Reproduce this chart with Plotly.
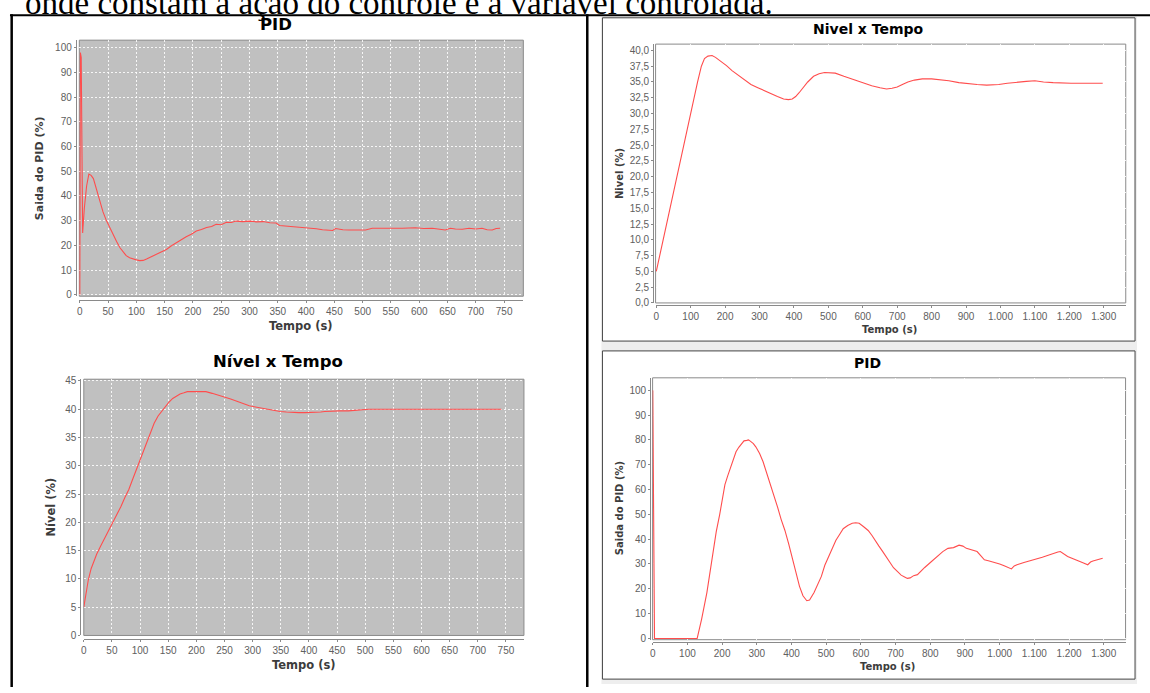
import plotly.graph_objects as go

# ---------------- data ----------------
# Top-left: PID output (%) vs time (s)
pid1_t = [0, 1, 2.5, 5, 8, 12, 16, 20, 24, 30, 35, 41, 47, 53, 59, 65, 71, 77, 82, 88, 94, 100,
          106, 112, 118, 124, 130, 141, 153, 162, 171, 180, 188, 197, 206, 215, 224, 233, 241,
          250, 259, 268, 276, 288, 300, 312, 324, 336, 347, 353, 365, 376, 394, 405, 418, 429,
          440, 447, 452, 465, 476, 490, 505, 517, 535, 552, 570, 593, 608, 623, 635, 646, 655,
          664, 676, 688, 700, 711, 720, 729, 736, 743]
pid1_v = [0, 98, 96, 25, 35, 44, 48.8, 48.3, 47, 42, 38, 33.5, 30, 27, 24.2, 21.5, 19, 17.2,
          15.8, 15, 14.4, 14.1, 13.8, 13.9, 14.5, 15.3, 15.8, 17, 18.3, 19.8, 21.2, 22.4, 23.5,
          24.5, 25.8, 26.4, 27.2, 27.6, 28.5, 28.3, 29.3, 29.2, 29.8, 29.6, 29.8, 29.5, 29.6,
          29.1, 29.0, 28.0, 27.8, 27.6, 27.3, 27.0, 26.7, 26.3, 26.1, 26.0, 26.8, 26.3, 26.2,
          26.3, 26.2, 26.9, 26.8, 27.0, 26.9, 27.1, 26.8, 26.9, 26.5, 26.2, 26.9, 26.6, 26.5,
          26.9, 26.6, 26.9, 26.3, 26.2, 26.8, 26.9]

# Top-right: level (%) vs time (s)
lvl2_t = [0, 10, 25, 40, 57, 72, 88, 100, 110, 120, 131, 140, 150, 162, 172, 183, 195, 204, 220,
          240, 257, 275, 295, 310, 330, 352, 370, 384, 395, 405, 415, 426, 440, 457, 473, 489,
          505, 520, 545, 573, 600, 626, 650, 669, 685, 700, 715, 731, 750, 773, 800, 826, 850,
          879, 905, 932, 960, 995, 1020, 1047, 1075, 1100, 1125, 1153, 1180, 1205, 1250, 1297]
lvl2_v = [5, 7.5, 11.5, 15.3, 19.3, 23.2, 27.1, 29.8, 32.3, 35, 37.5, 38.7, 39.1, 39.2, 38.9,
          38.5, 38.0, 37.6, 36.8, 36.0, 35.3, 34.6, 34.1, 33.7, 33.2, 32.7, 32.3, 32.2, 32.3,
          32.7, 33.3, 34.0, 35.0, 35.9, 36.3, 36.5, 36.5, 36.4, 35.9, 35.4, 34.9, 34.4, 34.1,
          33.9, 34.0, 34.2, 34.6, 35.0, 35.3, 35.5, 35.5, 35.4, 35.2, 34.9, 34.7, 34.6, 34.5,
          34.6, 34.8, 35.0, 35.1, 35.2, 35.0, 34.9, 34.8, 34.8, 34.8, 34.8]

# Bottom-left: level (%) vs time (s)
lvl1_t = [0, 4, 8, 13, 17, 23, 30, 38, 47, 53, 60, 66, 73, 80, 86, 93, 99, 106, 112, 119, 125,
          132, 138, 145, 151, 158, 165, 171, 178, 184, 195, 206, 217, 228, 239, 250, 261, 272,
          283, 294, 305, 316, 327, 338, 349, 360, 371, 382, 393, 404, 415, 421, 428, 440, 455,
          470, 481, 490, 500, 506, 520, 550, 600, 650, 700, 742]
lvl1_v = [5, 7.8, 9.8, 11.8, 13, 14.4, 15.8, 17.3, 19, 20.2, 21.6, 22.8, 24.4, 25.8, 27.4, 29.2,
          30.8, 32.7, 34.3, 36, 37.5, 38.8, 39.6, 40.4, 41.2, 41.9, 42.4, 42.7, 42.9, 43.1, 43.1,
          43.1, 43.1, 42.8, 42.5, 42.2, 41.8, 41.4, 41.0, 40.6, 40.4, 40.2, 39.9, 39.7, 39.6,
          39.5, 39.4, 39.4, 39.4, 39.4, 39.4, 39.5, 39.6, 39.7, 39.7, 39.7, 39.8, 39.9, 39.9,
          40.0, 40.0, 40.0, 40.0, 40.0, 40.0, 40.0]

# Bottom-right: PID output (%) vs time (s)
pid2_t = [0, 5, 128, 141, 156, 164, 172, 183, 193, 200, 208, 216, 224, 232, 240, 248, 256, 263,
          271, 276, 282, 290, 297, 308, 318, 328, 339, 350, 360, 370, 381, 392, 402, 412, 423,
          433, 444, 452, 465, 475, 486, 496, 507, 517, 528, 539, 549, 562, 575, 585, 595, 608,
          621, 632, 642, 652, 663, 674, 684, 694, 705, 716, 726, 734, 742, 752, 763, 773, 784,
          797, 810, 823, 836, 851, 867, 883, 894, 904, 920, 935, 946, 956, 970, 987, 1000, 1013,
          1025, 1034, 1042, 1050, 1070, 1092, 1108, 1123, 1140, 1155, 1168, 1175, 1186, 1196,
          1210, 1227, 1240, 1254, 1262, 1269, 1283, 1297]
pid2_v = [100, 0, 0, 7.9, 18.5, 26, 34.3, 43, 50, 56, 62, 65.5, 68.6, 72, 75.2, 77, 78.5, 79.6,
          79.8, 80, 79.4, 78.5, 77.2, 74.5, 71.2, 67, 62, 57.5, 52.8, 48, 43.5, 38, 33, 27, 21,
          17.2, 15.2, 15.5, 18.5, 21.5, 25, 29.5, 33, 36.5, 39.6, 42, 44.2, 45.5, 46.4, 46.6,
          46.4, 45, 43.5, 41.5, 39.6, 37.2, 35, 32.5, 30.3, 28.5, 27, 25.5, 24.8, 24.2, 24.4,
          25.3, 25.7, 27.3, 28.6, 30.2, 31.7, 33.3, 35, 36.3, 36.6, 37.6, 37.2, 36.3, 35.6, 35,
          33.3, 31.7, 31.2, 30.6, 30.0, 29.3, 28.6, 28, 29.2, 29.7, 30.6, 31.4, 32.0, 32.7, 33.5,
          34.3, 34.8, 35, 34, 33, 32.2, 31.4, 30.5, 29.7, 30.8, 31.2, 31.8, 32.3]

ticks_left_x = list(range(0, 751, 50))
ticks_pid1_y = list(range(0, 101, 10))
ticks_lvl1_y = list(range(0, 46, 5))
ticks_right_x = list(range(0, 1301, 100))
ticks_right_x_text = ["0", "100", "200", "300", "400", "500", "600", "700", "800", "900",
                      "1.000", "1.100", "1.200", "1.300"]
ticks_lvl2_y = [i * 2.5 for i in range(17)]
ticks_lvl2_y_text = ["0,0", "2,5", "5,0", "7,5", "10,0", "12,5", "15,0", "17,5", "20,0", "22,5",
                     "25,0", "27,5", "30,0", "32,5", "35,0", "37,5", "40,0"]
ticks_pid2_y = list(range(0, 101, 10))

# ---------------- layout helpers ----------------
W, H = 1150, 693
def fx(p):
    return p / W
def fy(p):
    return 1 - p / H

LINE = "#ff4d4d"
fig = go.Figure()
for tx, ty, xa, ya in [(pid1_t, pid1_v, "x", "y"), (lvl2_t, lvl2_v, "x2", "y2"),
                       (lvl1_t, lvl1_v, "x3", "y3"), (pid2_t, pid2_v, "x4", "y4")]:
    fig.add_trace(go.Scatter(x=tx, y=ty, mode="lines", line=dict(color=LINE, width=1.1),
                             xaxis=xa, yaxis=ya, showlegend=False, cliponaxis=False,
                             hoverinfo="skip"))

# plot rectangles in pixels: (left, top, right, bottom)
P1 = (76.5, 36.7, 521.7, 296.5)
P2 = (654.3, 40.7, 1125.7, 303.3)
P3 = (81.0, 380.7, 522.3, 640.7)
P4 = (651.3, 379.3, 1125.5, 645.0)

TICKFONT = dict(family="Liberation Sans, Arial, sans-serif", size=10, color="#606060")
def xax(rect, rng, vals, text, off):
    return dict(domain=[fx(rect[0]), fx(rect[2])], range=rng, anchor="free",
                position=fy(rect[3] + off), tickvals=vals, ticktext=text,
                showgrid=True, gridcolor="rgba(255,255,255,0.85)", gridwidth=1,
                griddash="2px,2px", zeroline=False, showline=True, linecolor="#8a8a8a",
                linewidth=1, ticks="outside", ticklen=2, tickcolor="#8a8a8a",
                tickfont=TICKFONT, fixedrange=True)
def yax(rect, rng, vals, text, off):
    return dict(domain=[fy(rect[3]), fy(rect[1])], range=rng, anchor="free",
                position=fx(rect[0] - off), tickvals=vals, ticktext=text,
                showgrid=True, gridcolor="rgba(255,255,255,0.85)", gridwidth=1,
                griddash="2px,2px", zeroline=False, showline=True, linecolor="#8a8a8a",
                linewidth=1, ticks="outside", ticklen=2, tickcolor="#8a8a8a",
                tickfont=TICKFONT, fixedrange=True)

layout = dict(
    width=W, height=H, margin=dict(l=0, r=0, t=0, b=0),
    paper_bgcolor="white", plot_bgcolor="#c0c0c0", showlegend=False,
    xaxis=xax(P1, [-0.9, 784], ticks_left_x, [str(v) for v in ticks_left_x], 3.5),
    yaxis=yax(P1, [-0.6, 103], ticks_pid1_y, [str(v) for v in ticks_pid1_y], 3.5),
    xaxis2=xax(P2, [-2, 1364], ticks_right_x, ticks_right_x_text, 2.5),
    yaxis2=yax(P2, [0, 41], ticks_lvl2_y, ticks_lvl2_y_text, 2.5),
    xaxis3=xax(P3, [0, 782], ticks_left_x, [str(v) for v in ticks_left_x], 3.5),
    yaxis3=yax(P3, [0, 45.3], ticks_lvl1_y, [str(v) for v in ticks_lvl1_y], 3.5),
    xaxis4=xax(P4, [-0.5, 1363], ticks_right_x, ticks_right_x_text, 2.5),
    yaxis4=yax(P4, [-0.5, 105], ticks_pid2_y, [str(v) for v in ticks_pid2_y], 2.5),
)
fig.update_layout(**layout)

shapes = []
# light-grey screenshot background on the right column and the white chart panels
shapes.append(dict(type="rect", xref="paper", yref="paper", x0=fx(600), x1=fx(1137),
                   y0=fy(690), y1=fy(13), fillcolor="#eeeeee", line=dict(width=0), layer="below"))
for (t, b) in [(14, 342), (352, 685)]:
    shapes.append(dict(type="rect", xref="paper", yref="paper", x0=fx(601), x1=fx(1135),
                       y0=fy(b), y1=fy(t), fillcolor="white",
                       line=dict(color="#444444", width=1), layer="below"))
# plot outlines (drawn under the data lines)
for r in [P1, P2, P3, P4]:
    shapes.append(dict(type="rect", xref="paper", yref="paper", x0=fx(r[0]), x1=fx(r[2]),
                       y0=fy(r[3]), y1=fy(r[1]), line=dict(color="#8a8a8a", width=1),
                       layer="between"))
# table borders
shapes.append(dict(type="line", xref="paper", yref="paper", x0=fx(7), x1=1, y0=fy(11.3),
                   y1=fy(11.3), line=dict(color="black", width=2)))
shapes.append(dict(type="line", xref="paper", yref="paper", x0=fx(8.7), x1=fx(8.7), y0=0,
                   y1=fy(10.5), line=dict(color="black", width=2.5)))
shapes.append(dict(type="line", xref="paper", yref="paper", x0=fx(585.8), x1=fx(585.8), y0=0,
                   y1=fy(10.5), line=dict(color="black", width=2.5)))
fig.update_layout(shapes=shapes)

ann = []
def text(x, y, s, size, bold=True, angle=0, color="#000", family="DejaVu Sans, sans-serif"):
    ann.append(dict(xref="paper", yref="paper", x=fx(x), y=fy(y), text=(f"<b>{s}</b>" if bold else s),
                    showarrow=False, xanchor="center", yanchor="middle", textangle=angle,
                    font=dict(family=family, size=size, color=color)))

# cut-off sentence at top of the page
ann.append(dict(xref="paper", yref="paper", x=fx(20), y=fy(-21), xanchor="left", yanchor="top",
                text="onde constam a ação do controle e a variável controlada.", showarrow=False,
                font=dict(family="Liberation Serif, Times New Roman, serif", size=33, color="#000")))

# chart titles
text(274, 20.5, "PID", 16.5)
text(868, 25.5, "Nivel x Tempo", 14)
text(276, 363, "Nível x Tempo", 16.5)
text(867, 364, "PID", 14)
# axis titles
AX = "#3c3c3c"
text(36, 166.7, "Saida do PID (%)", 11, angle=-90, color=AX)
text(299, 326.5, "Tempo (s)", 11.5, color=AX)
text(617.5, 171.7, "Nivel (%)", 10, angle=-90, color=AX)
text(889, 330, "Tempo (s)", 10, color=AX)
text(48, 510, "Nível (%)", 11.5, angle=-90, color=AX)
text(302, 670.7, "Tempo (s)", 11.5, color=AX)
text(617.5, 511.7, "Saida do PID (%)", 10, angle=-90, color=AX)
text(887, 672, "Tempo (s)", 10, color=AX)
fig.update_layout(annotations=ann)

fig.write_html("out.html", config={"displayModeBar": False, "staticPlot": True},
               post_script="document.body.style.margin='0';document.body.style.overflow='hidden';")
